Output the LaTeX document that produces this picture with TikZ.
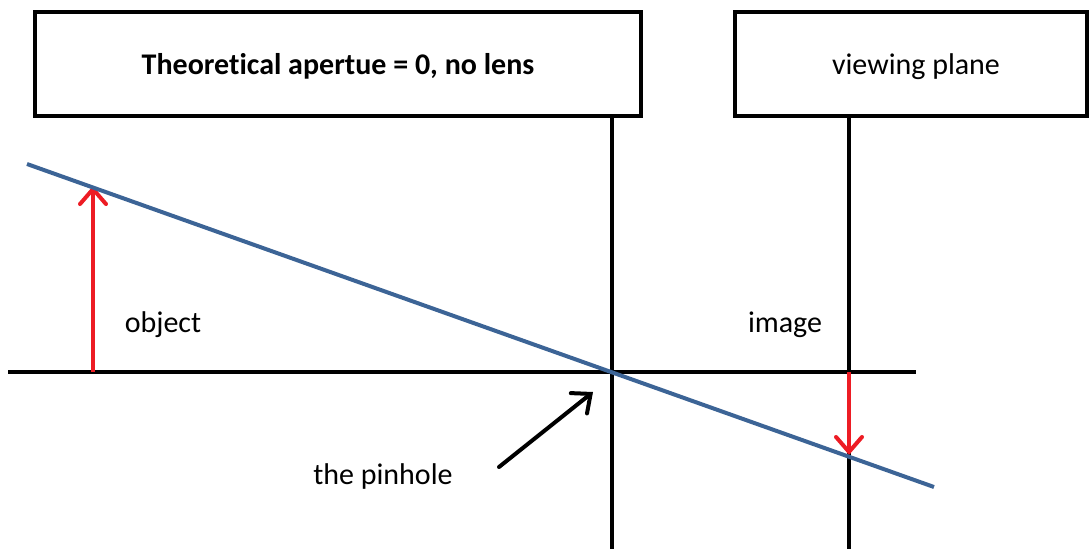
\documentclass[tikz,border=0pt]{standalone}
\usepackage{fontspec}
\setmainfont{Carlito}[Ligatures={NoCommon}]
\usetikzlibrary{arrows.meta}
\definecolor{raycol}{RGB}{60,100,150}
\definecolor{arrred}{RGB}{237,28,36}
\begin{document}
\begin{tikzpicture}[x=1pt,y=-1pt,
  frame/.style={draw=black,line width=3.8pt,fill=white,inner sep=0pt,
    font=\fontsize{30}{36}\selectfont},
  axis/.style={draw=black,line width=3.8pt},
  ray/.style={draw=raycol,line width=4pt},
  redarrow/.style={draw=arrred,line width=4pt,
    -{Straight Barb[length=15pt,width=26pt,line cap=round]}},
  pointer/.style={draw=black,line width=4pt,line cap=round,
    -{Straight Barb[length=15pt,width=26pt,line cap=round]}},
  lbl/.style={font=\fontsize{30}{36}\selectfont,inner sep=0pt}]
\useasboundingbox (0,0) rectangle (1089,549);

% title boxes (text baseline 10pt below the box centre)
\node[frame,minimum width=606pt,minimum height=104pt] (box1) at (338,64)
  {\raisebox{-10pt}[0pt][0pt]{\bfseries Theoretical apertue = 0, no lens}};
\node[frame,minimum width=352pt,minimum height=104pt] (box2) at (911,64)
  {\raisebox{-10pt}[0pt][0pt]{\hspace{10pt}viewing plane}};

% reference points
\coordinate (pin) at (612,372);
\coordinate (screen) at (849,372);
\coordinate (axl) at (8,372);
\coordinate (axr) at (916,372);
\coordinate (bot) at (0,549);
\coordinate (rayA) at (27,164);
\coordinate (rayB) at (934,487);
\coordinate (objbase) at (93,372);
\coordinate (objtip) at (93,186);
\coordinate (imgtip) at (849,455);
\coordinate (ptail) at (499,467);
\coordinate (phead) at (593,392);

% optical axis and planes
\draw[axis] (axl) -- (axr);
\draw[axis] (pin |- box1.south) -- (pin |- bot);
\draw[axis] (screen |- box2.south) -- (screen |- bot);

% object and image arrows
\draw[redarrow] (objbase) -- (objtip);
\draw[redarrow] (screen) -- (imgtip);

% ray through the pinhole
\draw[ray] (rayA) -- (rayB);

% pointer to the pinhole
\draw[pointer] (ptail) -- (phead);

% labels
\node[lbl] (objlbl) at (163,325) {object};
\node[lbl] (imglbl) at (785,325) {image};
\node[lbl] (pinlbl) at (383,476) {the pinhole};
\end{tikzpicture}
\end{document}
